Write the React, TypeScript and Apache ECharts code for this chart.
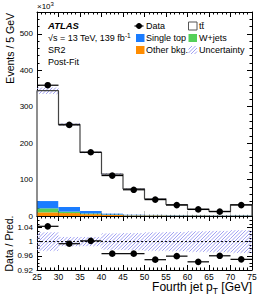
import React, { useEffect, useRef } from "react";
import * as echarts from "echarts";

// ---- data (values in units of 10^3 events / 5 GeV) ----
const binEdges = [25, 30, 35, 40, 45, 50, 55, 60, 65, 70, 75];
const dataEvents = [359, 250, 175, 111, 72, 45, 30, 18, 12, 30];
const ttbarEvents = [303, 226.5, 160.6, 108, 70.5, 43.9, 28.3, 16, 10, 28.6];
const singleTopEvents = [20, 13, 7, 3, 2, 1.5, 1.3, 1.2, 1, 1.3];
const wJetsEvents = [11, 4, 2, 1, 0.5, 0.5, 0.4, 0.4, 0.3, 0.4];
const otherBkgEvents = [10, 8, 5, 3, 1.5, 1.5, 1.3, 1.4, 1.2, 1.3];
const dataOverPred = [1.043, 0.994, 1.002, 0.966, 0.966, 0.949, 0.959, 0.943, 0.96, 0.95];
const relUncertainty = [0.026, 0.013, 0.013, 0.023, 0.024, 0.026, 0.027, 0.029, 0.03, 0.032];

const FONT = '"Liberation Sans", Arial, Helvetica, sans-serif';
const COLORS = {
  singleTop: "#1a7cff",
  wJets: "#55d058",
  other: "#ff8c00",
  ttbar: "#ffffff",
  hatch: "#9090f0",
  outline: "#444444",
};
const HATCH_STEP = 3.5;

// diagonal "/" hatch lines clipped to a rectangle (screen coordinates)
function hatchLines(x: number, y: number, w: number, h: number): any[] {
  const out: any[] = [];
  const x1 = x + w;
  const y1 = y + h;
  const cMin = x + y;
  const cMax = x1 + y1;
  const kStart = Math.ceil(cMin / HATCH_STEP);
  for (let k = kStart; k * HATCH_STEP <= cMax; k++) {
    const c = k * HATCH_STEP;
    const xa = Math.max(x, c - y1);
    const xb = Math.min(x1, c - y);
    if (xb - xa < 0.2) continue;
    out.push({
      type: "line",
      shape: { x1: xa, y1: c - xa, x2: xb, y2: c - xb },
      style: { stroke: COLORS.hatch, lineWidth: 0.85 },
      silent: true,
    });
  }
  return out;
}

const rectItem = (fill: string) => (_params: any, api: any) => {
  const p0 = api.coord([api.value(0), api.value(3)]);
  const p1 = api.coord([api.value(1), api.value(2)]);
  return {
    type: "rect",
    shape: { x: p0[0], y: p0[1], width: p1[0] - p0[0], height: p1[1] - p0[1] },
    style: { fill, lineWidth: 0 },
  };
};

const hatchItem = (_params: any, api: any) => {
  const p0 = api.coord([api.value(0), api.value(3)]);
  const p1 = api.coord([api.value(1), api.value(2)]);
  return {
    type: "group",
    children: hatchLines(p0[0], p0[1], p1[0] - p0[0], p1[1] - p0[1]),
  };
};

const pointItem = (_params: any, api: any) => {
  const l = api.coord([api.value(0), api.value(2)]);
  const r = api.coord([api.value(1), api.value(2)]);
  const cx = (l[0] + r[0]) / 2;
  return {
    type: "group",
    children: [
      { type: "line", shape: { x1: l[0], y1: l[1], x2: r[0], y2: r[1] }, style: { stroke: "#000", lineWidth: 1.2 } },
      { type: "circle", shape: { cx, cy: l[1], r: 3.3 }, style: { fill: "#000" } },
    ],
  };
};

function buildOption(): any {
  const layers = [
    { vals: otherBkgEvents, color: COLORS.other },
    { vals: wJetsEvents, color: COLORS.wJets },
    { vals: singleTopEvents, color: COLORS.singleTop },
    { vals: ttbarEvents, color: COLORS.ttbar },
  ];
  let base = dataEvents.map(() => 0);
  const stackSeries = layers.map((layer) => {
    const d = layer.vals.map((v, i) => [binEdges[i], binEdges[i + 1], base[i], base[i] + v]);
    base = base.map((b, i) => b + layer.vals[i]);
    return {
      type: "custom",
      xAxisIndex: 0,
      yAxisIndex: 0,
      renderItem: rectItem(layer.color),
      encode: { x: [0, 1], y: [2, 3] },
      data: d,
      z: 1,
      silent: true,
    };
  });
  const totalPred = base;

  const mainBand = totalPred.map((t, i) => [
    binEdges[i],
    binEdges[i + 1],
    t * (1 - relUncertainty[i]),
    t * (1 + relUncertainty[i]),
  ]);
  const ratioBand = relUncertainty.map((u, i) => [binEdges[i], binEdges[i + 1], 1 - u, 1 + u]);

  const outline: number[][] = [[binEdges[0], 0]];
  totalPred.forEach((t, i) => outline.push([binEdges[i], t]));
  outline.push([binEdges[binEdges.length - 1], totalPred[totalPred.length - 1]]);
  outline.push([binEdges[binEdges.length - 1], 0]);

  const mainPoints = dataEvents.map((v, i) => [binEdges[i], binEdges[i + 1], v]);
  const ratioPoints = dataOverPred.map((v, i) => [binEdges[i], binEdges[i + 1], v]);

  const axisLine = { show: true, onZero: false, lineStyle: { color: "#000", width: 1 } };
  const majorTick = { show: true, inside: true, length: 5, lineStyle: { color: "#000", width: 1 } };
  const minorTick = (n: number) => ({ show: true, splitNumber: n, length: 2.5, lineStyle: { color: "#000", width: 1 } });

  const xBase = {
    type: "value",
    min: 25,
    max: 75,
    interval: 5,
    splitLine: { show: false },
    axisLine,
    axisTick: majorTick,
    minorTick: minorTick(5),
  };
  const yMain = {
    type: "value",
    gridIndex: 0,
    min: 0,
    max: 560,
    interval: 100,
    splitLine: { show: false },
    axisLine,
    axisTick: majorTick,
    minorTick: minorTick(5),
  };
  const yRatio = {
    type: "value",
    gridIndex: 1,
    min: 0.92,
    max: 1.072,
    interval: 0.04,
    splitLine: { show: false },
    axisLine,
    axisTick: majorTick,
    minorTick: minorTick(4),
  };
  const labelStyle = { color: "#000", fontFamily: FONT, fontSize: 8 };

  const txt = (text: string, x: number, y: number, extra: any = {}, styleExtra: any = {}) => ({
    type: "text",
    x,
    y,
    ...extra,
    style: { text, fontFamily: FONT, fontSize: 9, fill: "#000", align: "left", verticalAlign: "middle", ...styleExtra },
  });

  return {
    animation: false,
    backgroundColor: "#fff",
    grid: [
      { left: 37, top: 12, width: 215, height: 204 },
      { left: 37, top: 216, width: 215, height: 54 },
    ],
    xAxis: [
      { ...xBase, gridIndex: 0, position: "bottom", axisLabel: { show: false } },
      { ...xBase, gridIndex: 0, position: "top", axisLabel: { show: false } },
      { ...xBase, gridIndex: 1, position: "bottom", axisLabel: { ...labelStyle, fontSize: 8.5, margin: 2 } },
      { ...xBase, gridIndex: 1, position: "top", axisLabel: { show: false } },
    ],
    yAxis: [
      { ...yMain, position: "left", axisLabel: { ...labelStyle, margin: 4, showMaxLabel: false } },
      { ...yMain, position: "right", axisLabel: { show: false } },
      {
        ...yRatio,
        position: "left",
        axisLabel: {
          ...labelStyle,
          margin: 4,
          showMaxLabel: false,
          formatter: (v: number) => String(+v.toFixed(2)),
        },
      },
      { ...yRatio, position: "right", axisLabel: { show: false } },
    ],
    series: [
      ...stackSeries,
      {
        type: "custom",
        xAxisIndex: 0,
        yAxisIndex: 0,
        renderItem: hatchItem,
        encode: { x: [0, 1], y: [2, 3] },
        data: mainBand,
        z: 2,
        silent: true,
      },
      {
        type: "line",
        xAxisIndex: 0,
        yAxisIndex: 0,
        step: "end",
        symbol: "none",
        data: outline,
        lineStyle: { color: COLORS.outline, width: 1.2 },
        z: 3,
        silent: true,
      },
      {
        type: "custom",
        xAxisIndex: 0,
        yAxisIndex: 0,
        renderItem: pointItem,
        encode: { x: [0, 1], y: 2 },
        data: mainPoints,
        z: 4,
        silent: true,
      },
      {
        type: "custom",
        xAxisIndex: 2,
        yAxisIndex: 2,
        renderItem: hatchItem,
        encode: { x: [0, 1], y: [2, 3] },
        data: ratioBand,
        z: 2,
        silent: true,
      },
      {
        type: "line",
        xAxisIndex: 2,
        yAxisIndex: 2,
        symbol: "none",
        data: [
          [25, 1],
          [75, 1],
        ],
        lineStyle: { color: "#000", width: 1, type: [2, 2] },
        z: 3,
        silent: true,
      },
      {
        type: "custom",
        xAxisIndex: 2,
        yAxisIndex: 2,
        renderItem: pointItem,
        encode: { x: [0, 1], y: 2 },
        data: ratioPoints,
        z: 4,
        silent: true,
      },
    ],
    graphic: [
      txt("×10{s|3}", 37, 6.5, {}, { fontSize: 8, rich: { s: { fontSize: 6, fontFamily: FONT, fill: "#000", padding: [0, 0, 5, 0] } } }),
      txt("ATLAS", 48, 25, {}, { fontSize: 9.5, fontWeight: "bold", fontStyle: "italic" }),
      txt("√s = 13 TeV, 139 fb{s|-1}", 48, 37.5, {}, { rich: { s: { fontSize: 6.5, fontFamily: FONT, fill: "#000", padding: [0, 0, 5, 0] } } }),
      txt("SR2", 48, 50),
      txt("Post-Fit", 48, 62),
      // legend
      { type: "line", shape: { x1: 134.5, y1: 26, x2: 143.5, y2: 26 }, style: { stroke: "#000", lineWidth: 1.2 } },
      { type: "line", shape: { x1: 139, y1: 23, x2: 139, y2: 29 }, style: { stroke: "#000", lineWidth: 1 } },
      { type: "circle", shape: { cx: 139, cy: 26, r: 3 }, style: { fill: "#000" } },
      txt("Data", 146, 26),
      { type: "rect", shape: { x: 136, y: 34, width: 8.5, height: 8 }, style: { fill: COLORS.singleTop } },
      txt("Single top", 146, 38),
      { type: "rect", shape: { x: 136, y: 46, width: 8.5, height: 8 }, style: { fill: COLORS.other } },
      txt("Other bkg.", 146, 50),
      { type: "rect", shape: { x: 188.5, y: 22, width: 8.5, height: 8 }, style: { fill: "#fff", stroke: "#555", lineWidth: 1 } },
      txt("tt\u0304", 199, 26),
      { type: "rect", shape: { x: 188.5, y: 34, width: 8.5, height: 8 }, style: { fill: COLORS.wJets } },
      txt("W+jets", 199, 38),
      { type: "group", children: hatchLines(188.5, 46, 8.5, 8) },
      txt("Uncertainty", 199, 50),
      // axis titles
      txt("Events / 5 GeV", 10, 13, { rotation: Math.PI / 2 }, { fontSize: 10.5, align: "right" }),
      txt("Data / Pred.", 9, 243.5, { rotation: Math.PI / 2 }, { fontSize: 10.5, align: "center" }),
      txt(
        "{a|Fourth jet p}{s|T}{a| [GeV]}",
        252,
        287,
        {},
        {
          align: "right",
          rich: {
            a: { fontSize: 12, fontFamily: FONT, fill: "#000" },
            s: { fontSize: 8.5, fontFamily: FONT, fill: "#000", padding: [8, 0, 0, 0] },
          },
        }
      ),
    ],
  };
}

export default function App() {
  const ref = useRef<HTMLDivElement>(null);
  useEffect(() => {
    if (!ref.current) return;
    const chart = echarts.init(ref.current, undefined, { renderer: "svg" });
    chart.setOption(buildOption());
    return () => chart.dispose();
  }, []);
  return (
    <div
      ref={ref}
      style={{ position: "fixed", left: 0, top: 0, width: 266, height: 300, background: "#fff" }}
    />
  );
}
